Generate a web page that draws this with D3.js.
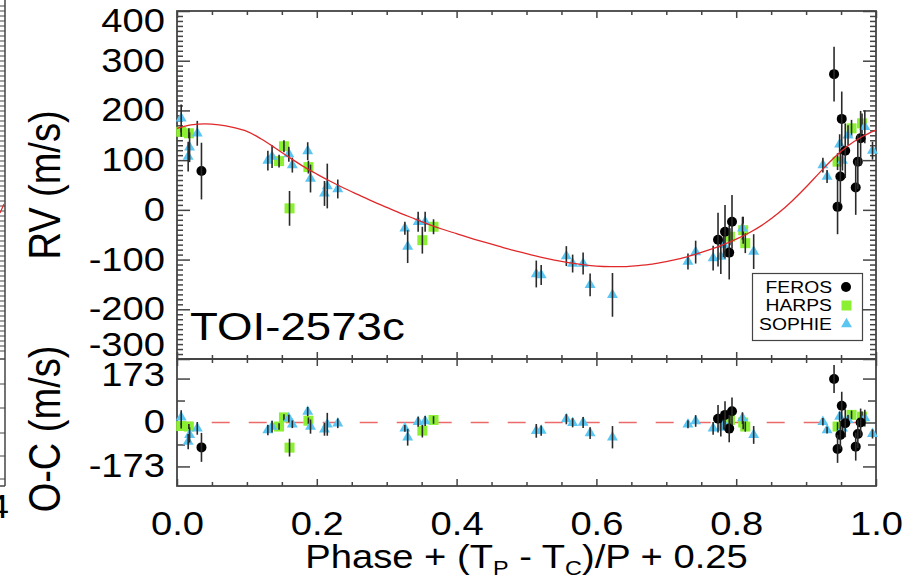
<!DOCTYPE html>
<meta charset="utf-8">
<head>
  <title>TOI-2573c radial velocity</title>
</head>
<style>
body { margin: 0; background: #fff; }
svg text { font-family: "Liberation Sans", Arial, Helvetica, sans-serif; fill: #000; }
</style>
<body>
<svg width="907" height="588"></svg>
<script src="https://cdn.jsdelivr.net/npm/d3@7"></script>
<script>

// ---- data ----
var feros_phase = [0.035, 0.774, 0.784, 0.794, 0.790, 0.940, 0.951, 0.956, 0.949, 0.945, 0.978, 0.974, 0.971];
var feros_rv    = [78, -60, -44, -24, -86, 273, 183, 119, 67, 6, 144, 97, 45];
var feros_err   = [57, 54, 54, 54, 54, 55, 55, 55, 55, 55, 55, 55, 55];
var feros_oc    = [-98, 15, 30, 44, -24, 171, 66, -3, -49, -104, 0, -45, -95];

var harps_phase = [0.006, 0.017, 0.153, 0.146, 0.161, 0.188, 0.351, 0.367, 0.791, 0.810, 0.813, 0.945, 0.965, 0.980];
var harps_rv    = [157, 154, 128, 98, 3, 86, -61, -34, -54, -41, -67, 97, 164, 174];
var harps_err   = [10, 10, 12, 13, 35, 13, 27, 15, 17, 27, 20, 17, 17, 20];
var harps_oc    = [-14, -16, 20, -16, -99, 7, -32, 10, 10, 0, -16, -16, 30, 23];

var sophie_phase = [0.006, 0.018, 0.016, 0.029, 0.130, 0.136, 0.160, 0.165, 0.187, 0.191, 0.211, 0.215, 0.230,
                    0.326, 0.330, 0.345, 0.355, 0.514, 0.521, 0.557, 0.566, 0.581, 0.591, 0.623,
                    0.731, 0.742, 0.767, 0.778, 0.782, 0.809, 0.825,
                    0.924, 0.930, 0.948, 0.952, 0.960, 0.984, 0.995];
var sophie_rv    = [184, 126, 107, 154, 99, 107, 112, 90, 118, 63, 33, 48, 42,
                    -37, -74, -24, -24, -129, -131, -93, -108, -108, -151, -171,
                    -104, -85, -97, -94, -70, -37, -84,
                    90, 67, 132, 99, 150, 167, 119];
var sophie_err   = [28, 30, 30, 25, 20, 23, 15, 15, 18, 28, 25, 45, 19,
                    13, 33, 20, 20, 27, 20, 20, 18, 22, 23, 44,
                    16, 23, 25, 35, 25, 23, 35,
                    15, 13, 20, 20, 20, 33, 18];
var sophie_oc    = [20, -49, -75, -23, -30, -16, 16, -7, 43, -16, -27, -7, -3,
                    -23, -58, 3, 6, -33, -32, 13, -1, 0, -42, -58,
                    -7, 6, -23, -20, -3, 17, -49,
                    3, -30, 23, -23, 10, 17, -45];

// Keplerian model curve, sampled off the figure
var model_phase = [0, 0.02, 0.04, 0.06, 0.08, 0.10, 0.12, 0.14, 0.16, 0.18, 0.20, 0.22, 0.24, 0.26, 0.28, 0.30,
                   0.32, 0.34, 0.36, 0.38, 0.40, 0.42, 0.44, 0.46, 0.48, 0.50, 0.52, 0.54, 0.56, 0.58, 0.60,
                   0.62, 0.64, 0.66, 0.68, 0.70, 0.72, 0.74, 0.76, 0.78, 0.80, 0.82, 0.84, 0.86, 0.88, 0.90,
                   0.92, 0.94, 0.96, 0.98, 1.00];
var model_rv = [164, 171, 173, 171, 166, 158, 143, 125, 106, 88, 72, 57, 43, 30, 17, 5,
                -7, -18, -29, -39, -48, -57, -65, -73, -81, -88, -95, -101, -106, -110, -113,
                -114, -114, -112, -109, -104, -98, -90, -81, -71, -59, -45, -28, -7, 18, 46,
                76, 105, 129, 147, 161];

var x_major = [0, 0.2, 0.4, 0.6, 0.8, 1.0];
var x_minor = [0.05, 0.1, 0.15, 0.25, 0.3, 0.35, 0.45, 0.5, 0.55, 0.65, 0.7, 0.75, 0.85, 0.9, 0.95];
var rv_major = [-300, -200, -100, 0, 100, 200, 300, 400];
var oc_major = [-173, 0, 173];
var oc_minor = [-86.5, 86.5];

var legend_names = ["FEROS", "HARPS", "SOPHIE"];

// ---- setup ----
var svg = d3.select("svg");
var SX = 1.17;   // the original lettering is drawn wide
var frameCol = "#444";

var x = d3.scaleLinear().domain([0, 1]).range([177, 876]);
var yRV = d3.scaleLinear().domain([-300, 400]).range([359, 11]);
var yOC = d3.scaleLinear().domain([-250, 250]).range([486, 359]);

svg.append("rect").attr("width", 907).attr("height", 588).attr("fill", "#fff");

// bit of the neighbouring panel at the far left
svg.append("line").attr("x1", 5).attr("x2", 5).attr("y1", 0).attr("y2", 486)
  .attr("stroke", frameCol).attr("stroke-width", 1.5);
svg.append("line").attr("x1", 0).attr("x2", 5).attr("y1", 486).attr("y2", 486)
  .attr("stroke", frameCol).attr("stroke-width", 1.5);
svg.append("line").attr("x1", 0).attr("x2", 5).attr("y1", 359).attr("y2", 359)
  .attr("stroke", frameCol).attr("stroke-width", 1.5);
svg.append("g").selectAll("line").data(d3.range(6, 356, 5)).enter().append("line")
  .attr("x1", 0).attr("x2", 5).attr("y1", d => d).attr("y2", d => d)
  .attr("stroke", frameCol).attr("stroke-width", 1);
svg.append("g").selectAll("line").data([384, 408, 433, 456, 479]).enter().append("line")
  .attr("x1", 0).attr("x2", 5).attr("y1", d => d).attr("y2", d => d)
  .attr("stroke", frameCol).attr("stroke-width", 1);
svg.append("line").attr("x1", 0).attr("x2", 4).attr("y1", 213).attr("y2", 204)
  .attr("stroke", "#e0282a").attr("stroke-width", 1.2);
svg.append("text").attr("transform", "translate(9,518) scale(" + SX + ",1)")
  .attr("text-anchor", "end").style("font-size", "32.6px").text("4");

// ---- axes ----
function styleAxis(g) {
  g.select(".domain").remove();
  g.selectAll(".tick line").attr("stroke", frameCol).attr("stroke-width", 1.5);
}

function xTicks(yPos, top, len, vals, labels) {
  var ax = (top ? d3.axisTop(x) : d3.axisBottom(x))
    .tickValues(vals).tickSizeInner(-len).tickSizeOuter(0);
  if (labels) ax.tickPadding(26).tickFormat(d3.format(".1f"));
  else ax.tickFormat("");
  var g = svg.append("g").attr("transform", "translate(0," + yPos + ")").call(ax).call(styleAxis);
  if (labels) {
    g.selectAll("text").attr("fill", "#000").style("font-size", "32.6px")
      .attr("transform", "scale(" + SX + ",1)");
  }
}
[11, 359].forEach(function(yy) { xTicks(yy, true, 7, x_major); xTicks(yy, true, 4, x_minor); });
[359, 486].forEach(function(yy) { xTicks(yy, false, 7, x_major, yy == 486); xTicks(yy, false, 4, x_minor); });

function yTicks(scale, vals, len, left, labels, nudge) {
  var ax = (left ? d3.axisLeft(scale) : d3.axisRight(scale))
    .tickValues(vals).tickSizeInner(-len).tickSizeOuter(0);
  // plain hyphen for negatives, as in the original
  if (labels) ax.tickPadding(10.3).tickFormat(d => String(d));
  else ax.tickFormat("");
  var g = svg.append("g").attr("transform", "translate(" + (left ? 177 : 876) + ",0)")
    .call(ax).call(styleAxis);
  if (labels) {
    g.selectAll("text").attr("fill", "#000").style("font-size", "32.6px")
      .attr("transform", "scale(" + SX + ",1)")
      .attr("y", d => nudge[d] || 0);
  }
}
var rvMinor = d3.range(-300, 401, 10).filter(v => v % 100 != 0);
[true, false].forEach(function(left) {
  yTicks(yRV, rv_major, 13, left, left, {"400": 10, "-300": -14});
  yTicks(yRV, rvMinor, 6, left, false);
  yTicks(yOC, oc_major, 13, left, left, {"173": -3});
  yTicks(yOC, oc_minor, 8, left, false);
});

// ---- frames ----
svg.append("rect").attr("x", 177).attr("y", 11).attr("width", 699).attr("height", 348)
  .attr("fill", "none").attr("stroke", frameCol).attr("stroke-width", 1.8);
svg.append("rect").attr("x", 177).attr("y", 359).attr("width", 699).attr("height", 127)
  .attr("fill", "none").attr("stroke", frameCol).attr("stroke-width", 1.8);

// zero line of the residuals
svg.append("line").attr("x1", x(0)).attr("x2", x(1)).attr("y1", yOC(0)).attr("y2", yOC(0))
  .attr("stroke", "#ec6a6a").attr("stroke-width", 1.6)
  .attr("stroke-dasharray", "18,19").attr("stroke-dashoffset", 2.3);

// ---- points ----
function build(ph, rv, er, oc) {
  return ph.map(function(p, i) { return {p: p, rv: rv[i], e: er[i], oc: oc[i]}; });
}
var feros = build(feros_phase, feros_rv, feros_err, feros_oc);
var harps = build(harps_phase, harps_rv, harps_err, harps_oc);
var sophie = build(sophie_phase, sophie_rv, sophie_err, sophie_oc);

var sq = d3.symbol(d3.symbolSquare).size(100);
var tri = d3.symbol(d3.symbolTriangle).size(52);
var errCol = "#2a2a2a";

function drawSet(data, kind) {
  [["rv", yRV], ["oc", yOC]].forEach(function(pair) {
    var key = pair[0], ys = pair[1];
    var g = svg.append("g");
    if (kind == "circle") {
      g.selectAll("circle").data(data).enter().append("circle")
        .attr("cx", d => x(d.p)).attr("cy", d => ys(d[key])).attr("r", 5).attr("fill", "#000");
    } else {
      g.selectAll("path").data(data).enter().append("path")
        .attr("d", kind == "square" ? sq : tri)
        .attr("transform", d => "translate(" + x(d.p) + "," + ys(d[key]) + ")")
        .attr("fill", kind == "square" ? "#8cf032" : "#5cc6f2");
    }
    g.selectAll("line").data(data).enter().append("line")
      .attr("x1", d => x(d.p)).attr("x2", d => x(d.p))
      .attr("y1", d => ys(d[key] - d.e)).attr("y2", d => ys(d[key] + d.e))
      .attr("stroke", errCol).attr("stroke-width", 1.6);
  });
}
drawSet(harps, "square");
drawSet(sophie, "triangle");
drawSet(feros, "circle");

// model
var model = model_phase.map(function(p, i) { return [p, model_rv[i]]; });
svg.append("path").datum(model)
  .attr("d", d3.line().x(d => x(d[0])).y(d => yRV(d[1])).curve(d3.curveMonotoneX))
  .attr("fill", "none").attr("stroke", "#e0282a").attr("stroke-width", 1.3);

// ---- labels ----
svg.append("text").attr("transform", "translate(190,340) scale(" + SX + ",1)")
  .style("font-size", "39px").text("TOI-2573c");

svg.append("text").attr("transform", "translate(60,185) scale(" + SX + ",1) rotate(-90)")
  .attr("text-anchor", "middle").style("font-size", "38px").text("RV (m/s)");
svg.append("text").attr("transform", "translate(60,429) scale(" + SX + ",1) rotate(-90)")
  .attr("text-anchor", "middle").style("font-size", "38px").text("O-C (m/s)");

var xt = svg.append("text").attr("transform", "translate(526.5,568) scale(" + SX + ",1)")
  .attr("text-anchor", "middle").style("font-size", "32.6px");
xt.append("tspan").text("Phase + (T");
xt.append("tspan").attr("dy", 7).style("font-size", "20px").text("P");
xt.append("tspan").attr("dy", -7).text(" - T");
xt.append("tspan").attr("dy", 7).style("font-size", "20px").text("C");
xt.append("tspan").attr("dy", -7).text(")/P + 0.25");

// ---- legend ----
svg.append("rect").attr("x", 752.5).attr("y", 273.5).attr("width", 110).attr("height", 67)
  .attr("fill", "#fff").attr("stroke", frameCol).attr("stroke-width", 1.2);
var rows = [287, 305.5, 324];
legend_names.forEach(function(name, i) {
  svg.append("text").attr("transform", "translate(832," + rows[i] + ") scale(" + SX + ",1)")
    .attr("text-anchor", "end").attr("dy", "0.36em").style("font-size", "16.5px").text(name);
});
svg.append("circle").attr("cx", 846).attr("cy", rows[0]).attr("r", 5).attr("fill", "#000");
svg.append("path").attr("d", sq).attr("transform", "translate(846.5," + rows[1] + ")").attr("fill", "#8cf032");
svg.append("path").attr("d", tri).attr("transform", "translate(846.5," + rows[2] + ")").attr("fill", "#5cc6f2");

</script>
</body>
</html>
